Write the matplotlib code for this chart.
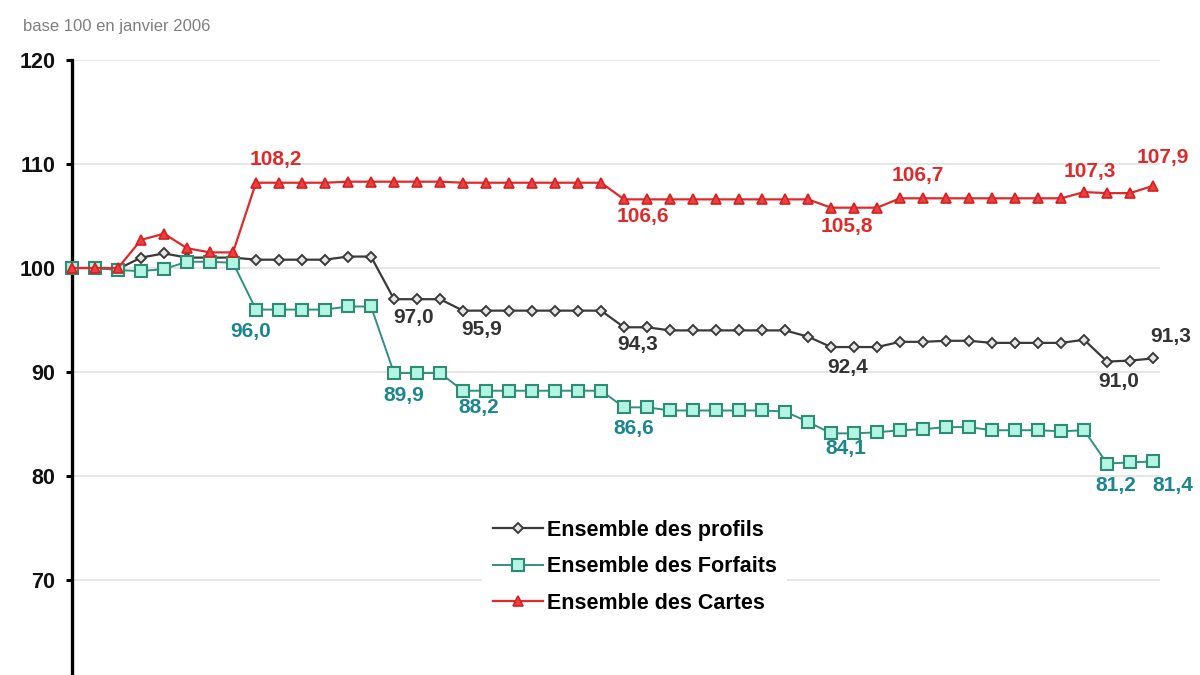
import matplotlib
matplotlib.use("Agg")
import matplotlib.pyplot as plt
import numpy as np

plt.rcParams['font.family'] = ['Liberation Sans', 'DejaVu Sans']

# monthly index, base 100 = January 2006 (48 months)
profils = [100.0, 100.0, 99.9, 101.0, 101.4, 101.0, 101.0, 101.0,
           100.8, 100.8, 100.8, 100.8, 101.1, 101.1, 97.0, 97.0,
           97.0, 95.9, 95.9, 95.9, 95.9, 95.9, 95.9, 95.9,
           94.3, 94.3, 94.0, 94.0, 94.0, 94.0, 94.0, 94.0,
           93.4, 92.4, 92.4, 92.4, 92.9, 92.9, 93.0, 93.0,
           92.8, 92.8, 92.8, 92.8, 93.1, 91.0, 91.1, 91.3]
forfaits = [100.0, 100.0, 99.8, 99.7, 99.9, 100.6, 100.6, 100.5,
            96.0, 96.0, 96.0, 96.0, 96.3, 96.3, 89.9, 89.9,
            89.9, 88.2, 88.2, 88.2, 88.2, 88.2, 88.2, 88.2,
            86.6, 86.6, 86.3, 86.3, 86.3, 86.3, 86.3, 86.2,
            85.2, 84.1, 84.1, 84.2, 84.4, 84.5, 84.7, 84.7,
            84.4, 84.4, 84.4, 84.3, 84.4, 81.2, 81.3, 81.4]
cartes = [100.0, 100.0, 100.0, 102.7, 103.3, 101.9, 101.5, 101.5,
          108.2, 108.2, 108.2, 108.2, 108.3, 108.3, 108.3, 108.3,
          108.3, 108.2, 108.2, 108.2, 108.2, 108.2, 108.2, 108.2,
          106.6, 106.6, 106.6, 106.6, 106.6, 106.6, 106.6, 106.6,
          106.6, 105.8, 105.8, 105.8, 106.7, 106.7, 106.7, 106.7,
          106.7, 106.7, 106.7, 106.7, 107.3, 107.2, 107.2, 107.9]

series_names = ["Ensemble des profils", "Ensemble des Forfaits", "Ensemble des Cartes"]
y_ticks = [60, 70, 80, 90, 100, 110, 120]
subtitle = "base 100 en janvier 2006"

# which points get a value label
profils_labels = [14, 17, 24, 33, 45, 47]
forfaits_labels = [8, 14, 17, 24, 33, 45, 47]
cartes_labels = [8, 24, 33, 36, 44, 47]

# label offsets in pixels (dx, dy)
profils_off = [(20, -18), (19, -19), (14, -17), (17, -20), (12, -20), (18, 22)]
forfaits_off = [(-5, -22), (10, -22), (16, -17), (10, -21), (15, -15), (9, -22), (20, -24)]
cartes_off = [(20, 23), (19, -17), (16, -19), (18, 23), (6, 21), (10, 28)]

fig = plt.figure(figsize=(12, 6.75), dpi=100)
ax = fig.add_axes([72 / 1200, 1 - 684 / 675, 1088 / 1200, 624 / 675])

x = np.arange(len(profils))

styles = [
    dict(color='#3a3a3a', marker='D', ms=5.5, mfc='#e6e6e6', mec='#3a3a3a', mew=1.4, lw=1.6),
    dict(color='#2f9080', marker='s', ms=8, mfc='#b3f5e3', mec='#2c8c74', mew=1.5, lw=1.4),
    dict(color='#e02a2a', marker='^', ms=7.5, mfc='#ec4040', mec='#d42020', mew=1.2, lw=1.6),
]
label_colors = ['#333333', '#1b8590', '#e02a2a']

data = [profils, forfaits, cartes]
labels = [profils_labels, forfaits_labels, cartes_labels]
offsets = [profils_off, forfaits_off, cartes_off]

handles = []
for i in range(3):
    h, = ax.plot(x, data[i], label=series_names[i], clip_on=False, zorder=3 + i, **styles[i])
    handles.append(h)
    for idx, (dx, dy) in zip(labels[i], offsets[i]):
        txt = f"{data[i][idx]:.1f}".replace('.', ',')
        ax.annotate(txt, (x[idx], data[i][idx]), xytext=(dx * 0.72, dy * 0.72),
                    textcoords='offset points', ha='center', va='center',
                    fontsize=15, fontweight='bold', color=label_colors[i],
                    annotation_clip=False, zorder=10)

ax.set_xlim(0, 47.3)
ax.set_ylim(60, 120)
ax.set_yticks(y_ticks)
ax.set_xticks([])
ax.yaxis.grid(True, color='#e4e4e4', lw=1.3)
ax.set_axisbelow(True)
for s in ['top', 'right', 'bottom']:
    ax.spines[s].set_visible(False)
ax.spines['left'].set_linewidth(2.4)
ax.spines['left'].set_color('black')
ax.tick_params(axis='y', length=4, width=2.2, pad=8, labelsize=15.5)
for t in ax.get_yticklabels():
    t.set_fontweight('bold')
    t.set_color('#111111')

leg = ax.legend(handles=handles, loc='upper left',
                bbox_to_anchor=(482 / 1200, 1 - 509 / 675), bbox_transform=fig.transFigure,
                frameon=True, facecolor='white', edgecolor='none', framealpha=1,
                fancybox=False, borderpad=0.5, labelspacing=0.72,
                handlelength=2.35, handletextpad=0.15, borderaxespad=0,
                prop={'size': 15.5, 'weight': 'bold'})
leg.set_zorder(20)

fig.text(23 / 1200, 1 - 27 / 675, subtitle, fontsize=12, color='#7f7f7f', va='center', ha='left')

fig.savefig("out.png", dpi=100)
